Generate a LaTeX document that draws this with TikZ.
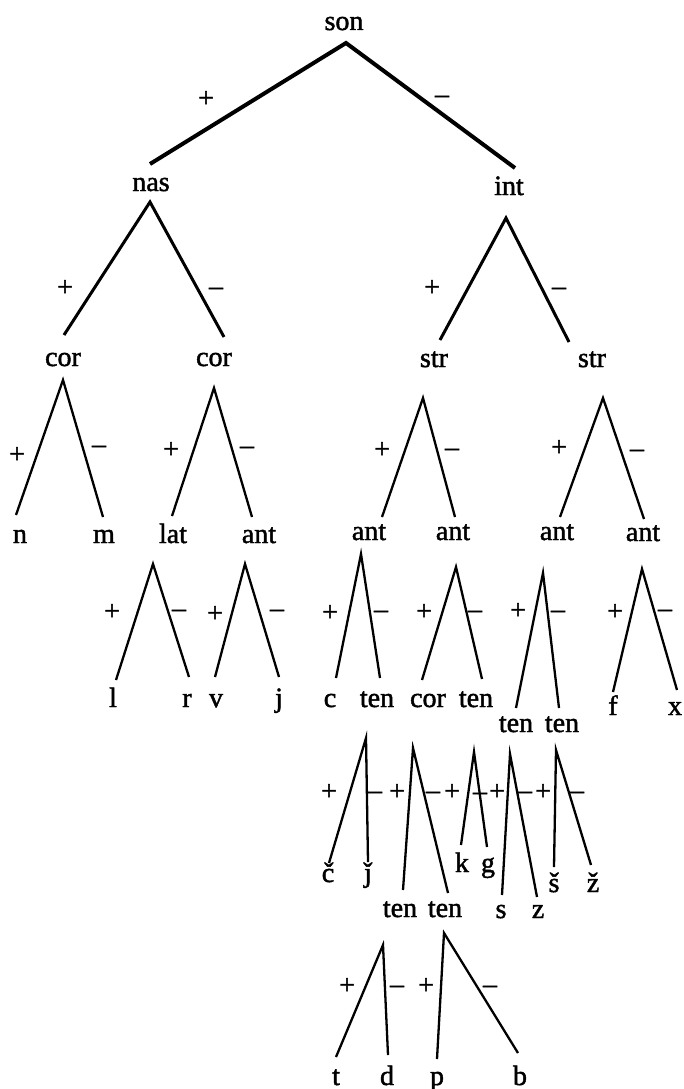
\documentclass[tikz,border=0pt]{standalone}
\usepackage{fontspec}
\setmainfont{Liberation Serif}[FakeBold=1.6]
\begin{document}
\begin{tikzpicture}[x=1pt,y=-1pt,
  lbl/.style={anchor=base,inner sep=0pt,font=\fontsize{28}{30}\selectfont},
  sgn/.style={anchor=base,inner sep=0pt,font=\fontsize{28}{30}\selectfont},
  branch/.style={line width=2.3pt,line join=miter,line cap=butt},
  topbranch/.style={branch,line width=4pt},
  midbranch/.style={branch,line width=3pt}]
\useasboundingbox (0,0) rectangle (684,1089);
% ---------- labels ----------
\node[lbl] (son) at (344,30) {son};
\node[lbl] (nas) at (151,191) {nas};
\node[lbl] (int) at (509,195) {int};
\node[lbl] (cor1) at (63,366) {cor};
\node[lbl] (cor2) at (214,366) {cor};
\node[lbl] (str1) at (434,367) {str};
\node[lbl] (str2) at (592,367) {str};
\node[lbl] (n) at (20,543) {n};
\node[lbl] (m) at (104,543) {m};
\node[lbl] (lat) at (173,543) {lat};
\node[lbl] (antA) at (259,543) {ant};
\node[lbl] (ant1) at (369,540) {ant};
\node[lbl] (ant2) at (453,540) {ant};
\node[lbl] (ant3) at (557,540) {ant};
\node[lbl] (ant4) at (643,541) {ant};
\node[lbl] (l) at (113,707) {l};
\node[lbl] (r) at (187,707) {r};
\node[lbl] (v) at (216,707) {v};
\node[lbl] (j) at (279,707) {j};
\node[lbl] (c) at (330,707) {c};
\node[lbl] (ten1) at (377,707) {ten};
\node[lbl] (cor3) at (428,707) {cor};
\node[lbl] (ten2) at (476,707) {ten};
\node[lbl] (ten3) at (516,732) {ten};
\node[lbl] (ten4) at (562,732) {ten};
\node[lbl] (f) at (613,715) {f};
\node[lbl] (x) at (675,715) {x};
\node[lbl] (cc) at (328,882) {č};
\node[lbl] (jj) at (368,882) {ǰ};
\node[lbl] (k) at (462,872) {k};
\node[lbl] (g) at (488,872) {g};
\node[lbl] (sh) at (554,892) {š};
\node[lbl] (zh) at (593,892) {ž};
\node[lbl] (s) at (501,918) {s};
\node[lbl] (z) at (538,918) {z};
\node[lbl] (ten5) at (400,917) {ten};
\node[lbl] (ten6) at (445,917) {ten};
\node[lbl] (t) at (336,1085) {t};
\node[lbl] (d) at (387,1085) {d};
\node[lbl] (p) at (437,1085) {p};
\node[lbl] (b) at (520,1085) {b};
% ---------- branch points ----------
\coordinate (sonA) at (346,43);  \coordinate (sonL) at (150,164); \coordinate (sonR) at (515,168);
\coordinate (nasA) at (150,202); \coordinate (nasL) at (64,335);  \coordinate (nasR) at (224,337);
\coordinate (intA) at (506,218); \coordinate (intL) at (440,340); \coordinate (intR) at (569,342);
\coordinate (cor1A) at (63,380); \coordinate (cor1L) at (16,515); \coordinate (cor1R) at (103,517);
\coordinate (cor2A) at (214,388); \coordinate (cor2L) at (172,516); \coordinate (cor2R) at (252,517);
\coordinate (str1A) at (423,398); \coordinate (str1L) at (382,517); \coordinate (str1R) at (455,517);
\coordinate (str2A) at (603,398); \coordinate (str2L) at (560,517); \coordinate (str2R) at (644,519);
\coordinate (latA) at (153,564); \coordinate (latL) at (116,680); \coordinate (latR) at (189,677);
\coordinate (antAA) at (245,564); \coordinate (antAL) at (215,677); \coordinate (antAR) at (279,677);
\coordinate (ant1A) at (361,554); \coordinate (ant1L) at (336,678); \coordinate (ant1R) at (380,678);
\coordinate (ant2A) at (456,567); \coordinate (ant2L) at (422,680); \coordinate (ant2R) at (482,679);
\coordinate (ant3A) at (543,573); \coordinate (ant3L) at (516,708); \coordinate (ant3R) at (559,708);
\coordinate (ant4A) at (642,569); \coordinate (ant4L) at (613,692); \coordinate (ant4R) at (677,690);
\coordinate (ten1A) at (366,738); \coordinate (ten1L) at (329,863); \coordinate (ten1R) at (368,862);
\coordinate (cor3A) at (413,748); \coordinate (cor3L) at (403,890); \coordinate (cor3R) at (448,893);
\coordinate (ten2A) at (474,752); \coordinate (ten2L) at (461,845); \coordinate (ten2R) at (487,847);
\coordinate (ten3A) at (510,754); \coordinate (ten3L) at (502,895); \coordinate (ten3R) at (537,897);
\coordinate (ten4A) at (556,750); \coordinate (ten4L) at (554,867); \coordinate (ten4R) at (591,865);
\coordinate (ten5A) at (383,945); \coordinate (ten5L) at (336,1057); \coordinate (ten5R) at (388,1055);
\coordinate (ten6A) at (444,933); \coordinate (ten6L) at (437,1059); \coordinate (ten6R) at (518,1053);
% ---------- branches ----------
\draw[topbranch] (sonL) -- (sonA) -- (sonR);
\draw[midbranch] (nasL) -- (nasA) -- (nasR);
\draw[midbranch] (intL) -- (intA) -- (intR);
\foreach \q in {cor1,cor2,str1,str2,lat,antA,ant1,ant2,ant3,ant4,ten1,cor3,ten2,ten3,ten4,ten5,ten6}
  \draw[branch] (\q L) -- (\q A) -- (\q R);
% ---------- signs ----------
\foreach \nm/\px/\py/\s in {
  sonP/206/107/+, sonM/442/103/–,
  nasP/65/296/+, nasM/216/295/–,
  intP/432/296/+, intM/559/295/–,
  cor1P/17/463/+, cor1M/99/453/–,
  cor2P/171/458/+, cor2M/247/454/–,
  str1P/382/458/+, str1M/452/456/–,
  str2P/559/456/+, str2M/637/457/–,
  latP/112/620/+, latM/179/617/–,
  antAP/215/622/+, antAM/277/617/–,
  ant1P/330/621/+, ant1M/381/618/–,
  ant2P/424/620/+, ant2M/475/618/–,
  ant3P/518/619/+, ant3M/558/618/–,
  ant4P/615/620/+, ant4M/665/617/–,
  ten1P/329/800/+, ten1M/375/799/–,
  cor3P/397/800/+, cor3M/433/799/–,
  ten2P/452/800/+, ten2M/480/800/–,
  ten3P/497/800/+, ten3M/525/799/–,
  ten4P/543/800/+, ten4M/577/799/–,
  ten5P/347/994/+, ten5M/397/993/–,
  ten6P/426/994/+, ten6M/490/993/–}
  \node[sgn] (\nm) at (\px,\py) {\s};
\end{tikzpicture}
\end{document}
